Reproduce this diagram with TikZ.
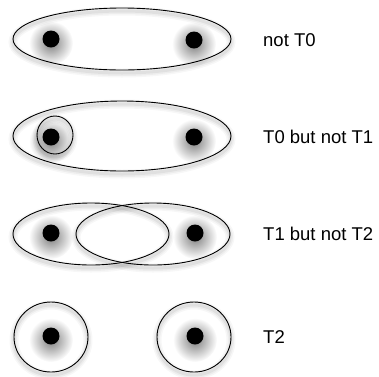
\documentclass[tikz,border=0pt]{standalone}
\usepackage{fontspec}
\usetikzlibrary{fadings}
\setmainfont{Liberation Sans}
\tikzfading[name=myhalo, inner color=transparent!0, outer color=transparent!100]
\begin{document}
\begin{tikzpicture}[x=1pt,y=-1pt,
  dot/.style={circle,fill=black,inner sep=0pt,minimum size=17pt},
  halo/.style={fill=black,fill opacity=0.5,path fading=myhalo},
  ring/.style={draw=black,line width=0.9pt},
  lab/.style={anchor=base west,font=\fontsize{18.5}{20}\selectfont,inner sep=0pt}]
\useasboundingbox (0,0) rectangle (379,376);
\fill[white] (0,0) rectangle (379,376);
% dot halos
\foreach \x/\y in {51/39,194/40,51/137,194/137,51/233,195/233,51/336,195/336}{
  \fill[halo] (\x,\y+4) circle (22);}
% shadows of outlines
\newcommand{\shadowellipse}[4]{%
  \foreach \w/\o in {9/0.03,6/0.04,3/0.05}{%
    \draw[black,opacity=\o,line width=\w pt] (#1,#2+3) ellipse [x radius=#3,y radius=#4];}}
\shadowellipse{122}{39}{109}{31}
\shadowellipse{122}{136}{109}{35}
\shadowellipse{55}{135}{18}{19}
\shadowellipse{91}{234}{78}{31}
\shadowellipse{153}{234}{77}{31}
\shadowellipse{51}{337}{37}{35}
\shadowellipse{194}{337}{37}{35}
% outlines
\draw[ring] (122,39) ellipse [x radius=109,y radius=31];
\draw[ring] (122,136) ellipse [x radius=109,y radius=35];
\draw[ring] (55,135) ellipse [x radius=18,y radius=19];
\draw[ring] (91,234) ellipse [x radius=78,y radius=31];
\draw[ring] (153,234) ellipse [x radius=77,y radius=31];
\draw[ring] (51,337) ellipse [x radius=37,y radius=35];
\draw[ring] (194,337) ellipse [x radius=37,y radius=35];
% dots
\node[dot] (a1) at (51,39) {};
\node[dot] (a2) at (194,40) {};
\node[dot] (b1) at (51,137) {};
\node[dot] (b2) at (194,137) {};
\node[dot] (c1) at (51,233) {};
\node[dot] (c2) at (195,233) {};
\node[dot] (d1) at (51,336) {};
\node[dot] (d2) at (195,336) {};
% labels
\node[lab] (l1) at (263,46) {not T0};
\node[lab] (l2) at (263,143) {T0 but not T1};
\node[lab] (l3) at (263,240) {T1 but not T2};
\node[lab] (l4) at (263,343) {T2};
\end{tikzpicture}
\end{document}
